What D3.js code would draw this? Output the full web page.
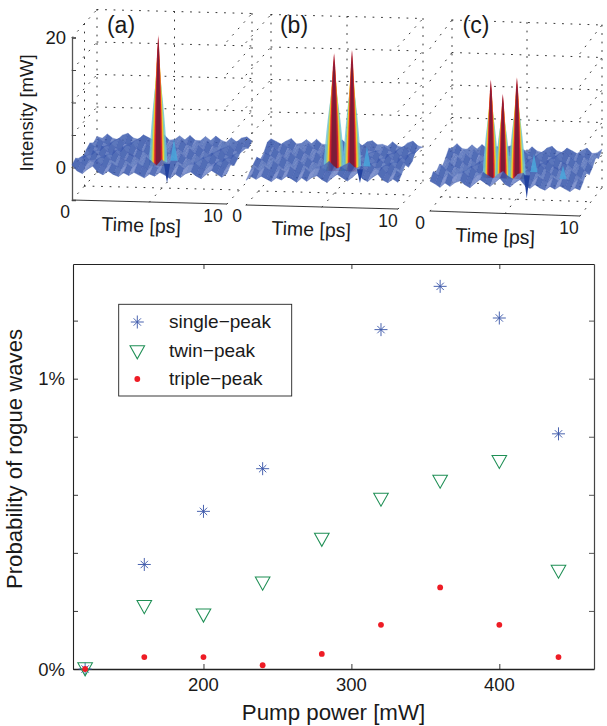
<!DOCTYPE html>
<html><head><meta charset="utf-8">
<script src="https://cdn.jsdelivr.net/npm/d3@7"></script>
<style>html,body{margin:0;padding:0;background:#fff}svg{display:block}text{font-family:"Liberation Sans",Arial,sans-serif;fill:#1a1a1a}</style>
</head><body><svg id="c" width="607" height="726"></svg>
<script>
// ---- main chart data
const pumpPower = [120,160,200,240,280,320,360,400,440];
const singlePeak = [0,0.36,0.543,0.69,null,1.169,1.318,1.209,0.81];
const twinPeak = [0,0.214,0.185,0.295,0.446,0.584,0.646,0.714,0.336];
const triplePeak = [0,0.041,0.041,0.013,0.052,0.152,0.281,0.152,0.041];
const xTicks = [200,300,400];
const yTicks = [0,0.2,0.4,0.6,0.8,1,1.2];
const legendNames = ["single\u2212peak","twin\u2212peak","triple\u2212peak"];

// ---- inset data: peaks as [time fraction, depth fraction, height mW, width]
const panelNames = ["(a)","(b)","(c)"];
const peaksA = [[0.508,0.3,19.4,0.056]];
const peaksB = [[0.53,0.3,17.4,0.066],[0.648,0.3,18,0.058]];
const peaksC = [[0.369,0.25,14.4,0.052],[0.449,0.25,12.3,0.05],[0.543,0.25,14.9,0.056]];
const dipsA = [[0.589,0.15,-2.7]], dipsB = [[0.725,0.15,-1.8]], dipsC = [[0.623,0.15,-3.2]];
const spikesA = [[0.561,0.6,2.2]], spikesB = [[0.697,0.6,1.8]], spikesC = [[0.605,0.6,1.6],[0.828,0.4,0.9]];
const columnShift = [0,9,17];
// ripple heights in mW, front row first
const ripple = [
[ 0.4,-0.5,-0.9,-0.2, 0.3,-0.6,-1.0,-0.4,-0.9,-1.2,-0.6,-1.0,-0.5,-0.9,-1.3,-0.7,-1.0,-0.4,-0.8,-1.3,-0.6,-1.1,-0.5,-0.2,-0.8,-1.2,-0.5, 0.1,-0.4,-0.9,-0.3],
[ 0.8, 0.1,-0.3, 0.5, 0.7,-0.1,-0.5, 0.2,-0.3,-0.6, 0.1,-0.4, 0.3,-0.2,-0.7, 0.0,-0.4, 0.4,-0.1,-0.6, 0.2,-0.4, 0.3, 0.6,-0.1,-0.6, 0.2, 0.6, 0.1,-0.3, 0.4],
[ 0.2, 0.7, 0.0,-0.4, 0.4, 0.8, 0.1,-0.3, 0.5, 0.0,-0.5, 0.3,-0.2, 0.6, 0.0,-0.6, 0.3,-0.2, 0.7, 0.1,-0.4, 0.4,-0.3, 0.2, 0.8, 0.0,-0.5, 0.3, 0.7, 0.0,-0.3],
[-0.4, 0.1, 0.8, 0.2,-0.3, 0.3, 0.9, 0.2,-0.4, 0.5, 0.1,-0.5, 0.4,-0.1, 0.7, 0.1,-0.5, 0.3,-0.2, 0.6, 0.0,-0.3, 0.6,-0.1, 0.3, 0.9, 0.1,-0.4, 0.2, 0.7, 0.1],
[ 0.3,-0.5, 0.2, 0.9, 0.1,-0.4, 0.4, 0.8,-0.1,-0.5, 0.6, 0.2,-0.4, 0.5,-0.2, 0.7, 0.0,-0.5, 0.4,-0.3, 0.8, 0.1,-0.4, 0.5,-0.2, 0.4, 0.9, 0.0,-0.5, 0.3, 0.8],
[ 0.7, 0.1,-0.4, 0.3, 0.8, 0.0,-0.5, 0.5, 0.9, 0.0,-0.3, 0.7, 0.1,-0.5, 0.6,-0.1, 0.8, 0.1,-0.4, 0.5,-0.1, 0.7, 0.0,-0.5, 0.6, 0.0, 0.5, 0.8, 0.1,-0.3, 0.4],
[ 0.1, 0.8, 0.2,-0.3, 0.5, 0.9, 0.1,-0.2, 0.6, 1.0, 0.2,-0.2, 0.8, 0.2,-0.3, 0.7, 0.1, 0.9, 0.2,-0.2, 0.7, 0.0, 0.8, 0.1,-0.2, 0.7, 0.1, 0.6, 0.9, 0.1,-0.1],
[ 0.5, 0.2, 0.9, 0.3, 0.1, 0.8, 1.1, 0.4, 0.2, 0.9, 0.5, 0.1, 0.6, 1.0, 0.2, 0.3, 0.9, 0.3, 1.0, 0.3, 0.2, 0.9, 0.3, 1.0, 0.4, 0.1, 0.8, 0.2, 0.8, 1.0, 0.4]
];
const bandColors = ["#6cc3dc","#8fcb8a","#f3d52e","#f08a26","#d2202f","#7c1d38"];
const bandWidths = [1.05,0.84,0.68,0.56,0.46,0.3];
const bandReach = [0.72,0.8,0.88,0.94,1,0.99];
const peakProfile = [1,0.93,0.85,0.76,0.66,0.55,0.42,0.27,0];

const svg = d3.select("#c");
const defs = svg.append("defs");
defs.append("filter").attr("id","soft").attr("x","-5%").attr("y","-5%").attr("width","110%").attr("height","110%")
  .append("feGaussianBlur").attr("stdDeviation",0.45);

// ---- insets
const panels = [
 {name:panelNames[0],peaks:peaksA,dips:dipsA,spikes:spikesA,shift:columnShift[0],o:[72,200],t:[155,4],d:[25,-28],lx:121,ly:33,
  t0:[65,218],t1:[213,222],tl:[141,232],axis:true},
 {name:panelNames[1],peaks:peaksB,dips:dipsB,spikes:spikesB,shift:columnShift[1],o:[246,205],t:[152,4],d:[25,-28],lx:294,ly:33,
  t0:[237,222],t1:[388,227],tl:[311,236]},
 {name:panelNames[2],peaks:peaksC,dips:dipsC,spikes:spikesC,shift:columnShift[2],o:[430,211],t:[150,5],d:[22,-28.5],lx:476,ly:33,
  t0:[420,229],t1:[569,234],tl:[495,243]}
];
const zPx = d3.scaleLinear().domain([-5,20]).range([0,162.5]);
const slopeColor = d3.scaleLinear().domain([-1,-0.2,0.2,1]).range(["#3a58ac","#4c69b5","#5873bb","#7288c8"]).clamp(true);
const tIdx = d3.scaleLinear().domain([0,ripple[0].length-1]).range([0,1]);
const dIdx = d3.scaleLinear().domain([0,ripple.length-1]).range([0,1]);
const hFrac = d3.scaleLinear().domain([0,peakProfile.length-1]).range([0,1]);

panels.forEach(p=>{
  const g = svg.append("g").attr("filter","url(#soft)");
  const P = (t,d,z)=>[p.o[0]+p.t[0]*t+p.d[0]*d, p.o[1]+p.t[1]*t+p.d[1]*d-zPx(z)];
  const dotted = (a,b)=>g.append("line").attr("x1",a[0]).attr("y1",a[1]).attr("x2",b[0]).attr("y2",b[1])
     .attr("stroke","#333").attr("stroke-width",1).attr("stroke-dasharray","1 7.5").attr("stroke-linecap","round");
  [0,5,10,15,20].forEach(z=>{ dotted(P(0,1,z),P(1,1,z)); dotted(P(0,0,z),P(0,1,z)); dotted(P(1,0,z),P(1,1,z)); });
  [0,0.5,1].forEach(t=>dotted(P(t,1,-5),P(t,1,20)));
  dotted(P(0,1,-5),P(1,1,-5)); dotted(P(0,0.5,-5),P(1,0.5,-5));
  dotted(P(0,0,-5),P(0,1,-5)); dotted(P(1,0,-5),P(1,1,-5)); dotted(P(0.5,0,-5),P(0.5,1,-5));
  if(p.axis){ dotted(P(0,0.5,-5),P(0,0.5,20)); }

  // time axis
  g.append("line").attr("x1",P(0,0,-5)[0]).attr("y1",P(0,0,-5)[1]).attr("x2",P(1,0,-5)[0]).attr("y2",P(1,0,-5)[1]).attr("stroke","#333").attr("stroke-width",1);
  if(p.axis){
    const ya = d3.scaleLinear().domain([-5,20]).range([p.o[1],p.o[1]-162.5]);
    const ag = g.append("g").attr("transform",`translate(${p.o[0]},0)`)
      .call(d3.axisRight(ya).tickValues([-5,0,5,10,15,20]).tickSize(4).tickFormat(""));
    ag.select(".domain").attr("stroke","#555").attr("stroke-width",1.3);
    ag.selectAll("line").attr("stroke","#444");
  }

  const line = d3.line();
  const n = ripple[0].length;
  const Z = (r,c)=>ripple[r][(c+p.shift)%n];
  const drawPeak = pk=>{
    bandColors.forEach((col,i)=>{
      const L=[],R=[];
      peakProfile.forEach((w,j)=>{
        const h=hFrac(j)*bandReach[i]*pk[2];
        const hw=pk[3]*bandWidths[i]*w;
        L.push(P(pk[0]-hw,pk[1],h-(j==0?0.7:0)));
        R.unshift(P(pk[0]+hw,pk[1],h-(j==0?0.7:0)));
      });
      g.append("path").attr("d",line(L.concat(R))+"Z").attr("fill",col).attr("opacity",i<2?0.8:1);
    });
  };
  const drawSpike = (s,col,op,hw,base)=>{
    g.append("path").attr("d",line([P(s[0]-hw,s[1],base),P(s[0],s[1],s[2]),P(s[0]+hw,s[1],base)])+"Z").attr("fill",col).attr("opacity",op);
  };
  const done=new Set();
  for(let r=ripple.length-2;r>=0;r--){
    const dr=dIdx(r);
    p.peaks.forEach((k,i)=>{ if(!done.has("p"+i)&&k[1]>=dr+dIdx(1)){ drawPeak(k); done.add("p"+i);} });
    for(let c=0;c<n-1;c++){
      const q=[P(tIdx(c),dIdx(r),Z(r,c)),P(tIdx(c+1),dIdx(r),Z(r,c+1)),P(tIdx(c+1),dIdx(r+1),Z(r+1,c+1)),P(tIdx(c),dIdx(r+1),Z(r+1,c))];
      const sl=(Z(r,c+1)+Z(r+1,c+1)-Z(r,c)-Z(r+1,c));
      const fc=slopeColor(sl);
      g.append("path").attr("d",line(q)+"Z").attr("fill",fc).attr("fill-opacity",0.88).attr("stroke",fc).attr("stroke-width",0.3);
    }
    g.append("path").attr("d",line(d3.range(n).map(c=>P(tIdx(c),dIdx(r),Z(r,c))))).attr("fill","none").attr("stroke","#34509f").attr("stroke-width",0.6).attr("opacity",0.45);
  }
  p.spikes.forEach(s=>drawSpike(s,"#4aa7dc",0.85,0.024,-1.2));
  p.dips.forEach(s=>drawSpike(s,"#24439f",1,0.02,0.3));

  svg.append("text").attr("x",p.lx).attr("y",p.ly).attr("text-anchor","middle").attr("font-size",23).text(p.name);
  svg.append("text").attr("x",p.t0[0]).attr("y",p.t0[1]).attr("text-anchor","middle").attr("font-size",17.5).text("0");
  svg.append("text").attr("x",p.t1[0]).attr("y",p.t1[1]).attr("text-anchor","middle").attr("font-size",17.5).text("10");
  svg.append("text").attr("x",p.tl[0]).attr("y",p.tl[1]).attr("text-anchor","middle").attr("font-size",19.5)
     .attr("transform",`rotate(2 ${p.tl[0]} ${p.tl[1]})`).text("Time [ps]");
});
svg.append("text").attr("x",66).attr("y",44).attr("text-anchor","end").attr("font-size",18.5).text("20");
svg.append("text").attr("x",66).attr("y",174).attr("text-anchor","end").attr("font-size",18.5).text("0");
svg.append("text").attr("transform","translate(33,113) rotate(-90)").attr("text-anchor","middle").attr("font-size",18.5).text("Intensity [mW]");

// ---- main chart
const L=73,Rt=594,T=264,B=669;
const x=d3.scaleLinear().domain([111.8,464]).range([L,Rt]);
const y=d3.scaleLinear().domain([0,1.395]).range([B,T]);
const style=(s,w,col)=>{s.select(".domain").attr("stroke",col).attr("stroke-width",w);s.selectAll(".tick line").attr("stroke",col).attr("stroke-width",0.9);s.selectAll("text").remove();};
svg.append("g").attr("transform",`translate(0,${T})`).call(d3.axisTop(x).tickValues(xTicks).tickSizeInner(-5).tickSizeOuter(0)).call(style,1,"#222");
svg.append("g").attr("transform",`translate(${Rt},0)`).call(d3.axisRight(y).tickValues(yTicks).tickSizeInner(-5).tickSizeOuter(0)).call(style,1.2,"#444");
svg.append("g").attr("transform",`translate(0,${B})`).call(d3.axisBottom(x).tickValues(xTicks).tickSizeInner(-5).tickSizeOuter(0)).call(style,1.6,"#222");
svg.append("g").attr("transform",`translate(${L},0)`).call(d3.axisLeft(y).tickValues(yTicks).tickSizeInner(-5).tickSizeOuter(0)).call(style,1.1,"#222");
xTicks.forEach(v=>svg.append("text").attr("x",x(v)).attr("y",691).attr("text-anchor","middle").attr("font-size",18.5).text(v));
[[0,"0%"],[1,"1%"]].forEach(a=>svg.append("text").attr("x",65).attr("y",y(a[0])+6.5).attr("text-anchor","end").attr("font-size",18.5).text(a[1]));
svg.append("text").attr("x",333.5).attr("y",720).attr("text-anchor","middle").attr("font-size",22.3).text("Pump power [mW]");
svg.append("text").attr("transform","translate(22,459) rotate(-90)").attr("text-anchor","middle").attr("font-size",22.2).text("Probability of rogue waves");

const starArms=[0,45,90,135];
const star=(g,cx,cy)=>starArms.forEach(a=>{
  const r=a%90?5.2:6.5, dx=r*Math.cos(a*Math.PI/180), dy=r*Math.sin(a*Math.PI/180);
  g.append("line").attr("x1",cx-dx).attr("y1",cy-dy).attr("x2",cx+dx).attr("y2",cy+dy).attr("stroke","#3f5bab").attr("stroke-width",0.95);
});
const tri=(g,cx,cy)=>g.append("path").attr("d",d3.line()([[cx-7.3,cy-6.3],[cx+7.3,cy-6.3],[cx,cy+6.8]])+"Z").attr("fill","none").attr("stroke","#1f8f55").attr("stroke-width",1.05);
const dot=(g,cx,cy)=>g.append("circle").attr("cx",cx).attr("cy",cy).attr("r",2.9).attr("fill","#ee1c25");
const m=svg.append("g");
pumpPower.forEach((v,i)=>{ if(singlePeak[i]!==null) star(m,x(v),y(singlePeak[i])); });
pumpPower.forEach((v,i)=>tri(m,x(v),y(twinPeak[i])));
pumpPower.forEach((v,i)=>dot(m,x(v),y(triplePeak[i])));

// legend
svg.append("rect").attr("x",118.7).attr("y",304.3).attr("width",173).attr("height",91.7).attr("fill","#fff").attr("stroke","#222").attr("stroke-width",0.9);
const ly=[322,351,379];
star(svg,137.3,ly[0]); tri(svg,137.3,ly[1]+1); dot(svg,137.3,ly[2]);
legendNames.forEach((t,i)=>svg.append("text").attr("x",169).attr("y",ly[i]+6).attr("font-size",19).text(t));
</script></body></html>
